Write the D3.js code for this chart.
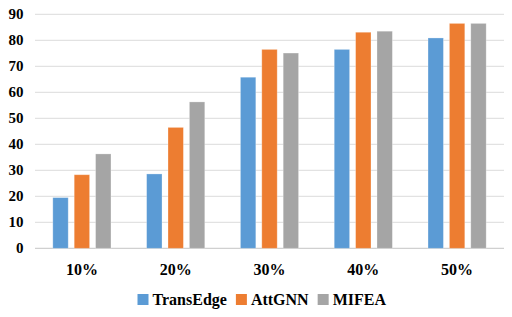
<!DOCTYPE html>
<html>
<head>
<meta charset="utf-8">
<script src="https://cdn.jsdelivr.net/npm/d3@7"></script>
<style>
  body { margin: 0; background: #fff; }
</style>
</head>
<body>
<div id="chart"></div>
<script>
// data
const categories = ["10%", "20%", "30%", "40%", "50%"];
const seriesNames = ["TransEdge", "AttGNN", "MIFEA"];
const transEdge = [19.5, 28.6, 65.8, 76.5, 80.9];
const attGNN = [28.3, 46.5, 76.5, 83.1, 86.5];
const mifea = [36.3, 56.3, 75.1, 83.5, 86.5];
const yTicks = [0, 10, 20, 30, 40, 50, 60, 70, 80, 90];
const colors = ["#5B9BD5", "#ED7D31", "#A5A5A5"];

const W = 512, H = 317;
const margin = {top: 14.3, right: 8, bottom: 68.7, left: 35};
const width = W - margin.left - margin.right,
      height = H - margin.top - margin.bottom;
const FONT = "'Liberation Serif', 'DejaVu Serif', serif";

const svg = d3.select("#chart").append("svg")
    .attr("width", W)
    .attr("height", H)
    .attr("font-family", FONT)
    .attr("font-weight", "bold");

const g = svg.append("g")
    .attr("transform", `translate(${margin.left},${margin.top})`);

const x = d3.scaleBand()
    .domain(categories)
    .range([0, width])
    .paddingInner(0.38)
    .paddingOuter(0.19);

const xInner = d3.scaleBand()
    .domain(seriesNames)
    .range([0, x.bandwidth()])
    .paddingInner(0.28);

const y = d3.scaleLinear()
    .domain([0, 90])
    .range([height, 0]);

// gridlines
g.append("g")
    .selectAll("line")
    .data(yTicks)
    .enter().append("line")
        .attr("x1", 0)
        .attr("x2", width)
        .attr("y1", d => y(d))
        .attr("y2", d => y(d))
        .attr("stroke", d => d === 0 ? "#d0d0d0" : "#e2e2e2")
        .attr("stroke-width", 1.3);

// y tick labels
g.append("g")
    .selectAll("text")
    .data(yTicks)
    .enter().append("text")
        .attr("x", -11.5)
        .attr("y", d => y(d))
        .attr("dy", "0.34em")
        .attr("text-anchor", "end")
        .style("font-size", "15px")
        .text(d => d);

// bars
const rows = categories.map((c, i) => ({cat: c, vals: [transEdge[i], attGNN[i], mifea[i]]}));

const groups = g.selectAll(".grp")
    .data(rows)
    .enter().append("g")
        .attr("class", "grp")
        .attr("transform", d => `translate(${x(d.cat)},0)`);

groups.selectAll("rect")
    .data(d => d.vals.map((v, j) => ({name: seriesNames[j], v: v, j: j})))
    .enter().append("rect")
        .attr("x", d => xInner(d.name))
        .attr("y", d => y(d.v))
        .attr("width", xInner.bandwidth())
        .attr("height", d => y(0) - y(d.v))
        .attr("fill", d => colors[d.j])
        .attr("stroke", "#fff")
        .attr("stroke-opacity", 0.35)
        .attr("stroke-width", 0.8);

// x labels
g.append("g")
    .selectAll("text")
    .data(categories)
    .enter().append("text")
        .attr("x", d => x(d) + x.bandwidth() / 2)
        .attr("y", height + 26.5)
        .attr("text-anchor", "middle")
        .style("font-size", "16px")
        .text(d => d);

// legend
const legend = svg.append("g")
    .attr("transform", "translate(137.5,0)");

let lx = 0;
seriesNames.forEach((name, i) => {
    legend.append("rect")
        .attr("x", lx)
        .attr("y", 294)
        .attr("width", 11)
        .attr("height", 11)
        .attr("fill", colors[i]);
    const t = legend.append("text")
        .attr("x", lx + 15)
        .attr("y", 305)
        .style("font-size", "16px")
        .text(name);
    lx += 15 + t.node().getComputedTextLength() + 9;
});
</script>
</body>
</html>
